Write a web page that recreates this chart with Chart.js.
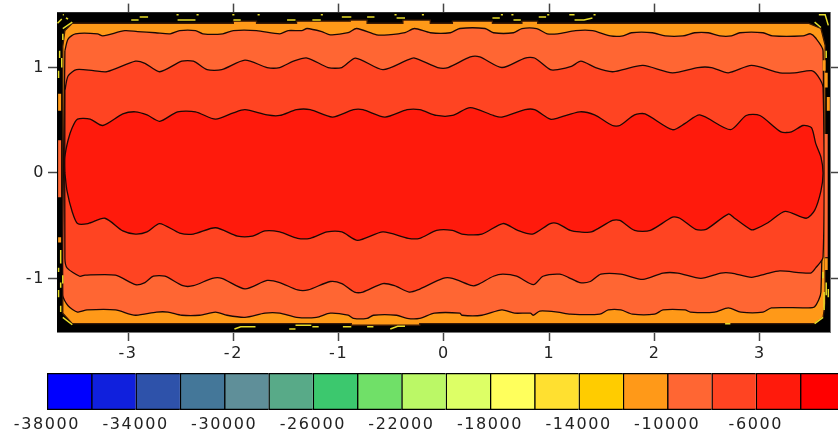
<!DOCTYPE html>
<html>
<head>
<meta charset="utf-8">
<title>Contour</title>
<script src="https://cdn.jsdelivr.net/npm/chart.js@4/dist/chart.umd.min.js"></script>
<style>
  body { margin: 0; background: #fff; }
  canvas { position: absolute; left: 0; filter: blur(0.35px); }
  #contour { top: 0; }
  #scaleBar { top: 360px; }
</style>
</head>
<body>
<canvas id="contour" width="838" height="360"></canvas>
<canvas id="scaleBar" width="838" height="72"></canvas>
<script>
const xRange = [-3.675, 3.666];
const yRange = [-1.509, 1.521];

// colour bar
const levels = [-38000, -36000, -34000, -32000, -30000, -28000, -26000, -24000, -22000, -20000, -18000, -16000, -14000, -12000, -10000, -8000, -6000, -4000, -2000];
const levelColors = ["#0000ff", "#1020dd", "#2e52aa", "#447799", "#5f8f99", "#58aa88", "#3cc86e", "#70e068", "#bbf866", "#ddff66", "#ffff5c", "#ffe030", "#ffcc00", "#ff9918", "#ff6633", "#ff4422", "#ff1a0c", "#ff0000"];
const barLabels = [-38000, -34000, -30000, -26000, -22000, -18000, -14000, -10000, -6000];
const barMax = -2290;

// contour at -10000 (edge of the orange band)
const c0TopX = [-3.62, -3.62, -3.60, -3.53, -2.00, -2.00, -1.78, -1.78, -1.40, -1.40, -0.89, -0.89, -0.73, -0.73, -0.39, -0.39, -0.13, -0.13, 0.08, 0.08, 0.46, 0.46, 0.74, 0.74, 0.89, 0.89, 3.46, 3.58, 3.62];
const c0TopY = [-1.20, 1.20, 1.35, 1.42, 1.42, 1.44, 1.44, 1.42, 1.42, 1.44, 1.44, 1.45, 1.45, 1.42, 1.42, 1.45, 1.45, 1.42, 1.42, 1.44, 1.44, 1.42, 1.42, 1.44, 1.44, 1.42, 1.42, 1.37, 1.21];
const c0BotX = [-3.62, -3.53, -0.88, -0.88, -0.23, -0.23, 3.52, 3.60, 3.62];
const c0BotY = [-1.33, -1.43, -1.43, -1.445, -1.445, -1.43, -1.43, -1.37, -1.24];

// contour at -8000
const c1TopX = [-3.60, -3.57, -3.50, -3.29, -3.24, -3.03, -2.91, -2.74, -2.60, -2.51, -2.36, -2.29, -2.10, -2.00, -1.78, -1.56, -1.48, -1.35, -1.30, -1.16, -1.08, -0.91, -0.83, -0.64, -0.53, -0.37, -0.28, -0.13, 0.06, 0.15, 0.39, 0.47, 0.66, 0.74, 0.88, 0.98, 1.08, 1.25, 1.41, 1.58, 1.70, 1.78, 1.98, 2.10, 2.27, 2.38, 2.51, 2.62, 2.73, 2.81, 3.03, 3.12, 3.41, 3.48, 3.53, 3.60];
const c1TopY = [1.16, 1.27, 1.32, 1.32, 1.30, 1.35, 1.34, 1.33, 1.32, 1.35, 1.35, 1.32, 1.32, 1.35, 1.35, 1.32, 1.35, 1.35, 1.37, 1.34, 1.31, 1.33, 1.37, 1.31, 1.31, 1.33, 1.37, 1.33, 1.33, 1.37, 1.37, 1.33, 1.33, 1.37, 1.37, 1.32, 1.32, 1.35, 1.35, 1.30, 1.30, 1.33, 1.33, 1.30, 1.30, 1.33, 1.33, 1.30, 1.30, 1.33, 1.33, 1.30, 1.30, 1.32, 1.28, 1.16];
const c1BotX = [-3.62, -3.57, -3.48, -3.39, -3.12, -2.93, -2.73, -2.62, -2.49, -2.32, -2.17, -2.06, -1.89, -1.70, -1.56, -1.40, -1.21, -1.08, -0.91, -0.86, -0.73, -0.67, -0.45, -0.35, -0.23, -0.09, 0.15, 0.17, 0.36, 0.55, 0.67, 0.82, 0.85, 0.91, 1.08, 1.20, 1.48, 1.56, 1.68, 1.79, 2.00, 2.08, 2.29, 2.34, 2.57, 2.70, 2.82, 3.03, 3.11, 3.43, 3.52, 3.58];
const c1BotY = [-1.16, -1.26, -1.32, -1.30, -1.30, -1.35, -1.32, -1.32, -1.35, -1.35, -1.32, -1.35, -1.37, -1.33, -1.33, -1.37, -1.37, -1.33, -1.35, -1.38, -1.38, -1.35, -1.35, -1.38, -1.38, -1.33, -1.33, -1.35, -1.35, -1.30, -1.33, -1.33, -1.35, -1.31, -1.32, -1.34, -1.34, -1.30, -1.30, -1.34, -1.34, -1.30, -1.30, -1.32, -1.32, -1.28, -1.32, -1.32, -1.28, -1.28, -1.27, -1.13];

// contour at -6000
const c2TopX = [-3.60, -3.57, -3.49, -3.33, -3.20, -2.93, -2.84, -2.70, -2.49, -2.38, -2.25, -2.11, -1.89, -1.68, -1.56, -1.43, -1.30, -1.10, -0.97, -0.84, -0.58, -0.35, -0.28, -0.06, 0.04, 0.25, 0.34, 0.55, 0.77, 0.86, 1.01, 1.08, 1.21, 1.30, 1.44, 1.60, 1.70, 1.89, 2.17, 2.41, 2.54, 2.70, 2.92, 3.19, 3.33, 3.49, 3.55, 3.60];
const c2TopY = [0.78, 0.92, 0.98, 0.97, 0.96, 1.06, 1.04, 0.96, 1.06, 1.06, 0.98, 0.98, 1.07, 1.00, 1.00, 1.06, 1.09, 1.00, 1.00, 1.09, 0.98, 1.07, 1.09, 1.00, 1.00, 1.10, 1.10, 1.00, 1.09, 1.09, 0.98, 0.98, 1.01, 1.06, 1.00, 0.96, 0.98, 1.02, 0.95, 1.00, 1.00, 0.95, 1.02, 0.95, 0.95, 0.97, 0.92, 0.81];
const c2BotX = [-3.60, -3.58, -3.46, -3.41, -3.12, -2.93, -2.84, -2.76, -2.65, -2.48, -2.38, -2.20, -2.11, -1.89, -1.68, -1.56, -1.39, -1.29, -1.08, -0.97, -0.85, -0.77, -0.58, -0.47, -0.33, -0.25, -0.01, 0.08, 0.27, 0.32, 0.47, 0.56, 0.69, 0.85, 0.94, 1.10, 1.18, 1.29, 1.39, 1.49, 1.68, 1.89, 2.08, 2.22, 2.44, 2.63, 2.73, 2.92, 3.05, 3.19, 3.48, 3.53, 3.60];
const c2BotY = [-0.81, -0.90, -0.98, -0.97, -0.97, -1.06, -1.04, -0.98, -0.98, -1.07, -1.07, -1.00, -1.00, -1.10, -1.02, -1.04, -1.11, -1.11, -1.03, -1.05, -1.13, -1.13, -1.05, -1.07, -1.13, -1.11, -1.00, -1.00, -1.07, -1.06, -0.98, -0.96, -0.98, -1.06, -0.98, -0.96, -0.99, -1.04, -1.03, -0.96, -0.96, -1.01, -0.95, -0.95, -1.00, -0.95, -0.95, -0.99, -0.96, -0.93, -0.95, -0.90, -0.80];

// contour at -4000 (centre region)
const c3TopX = [-3.60, -3.60, -3.57, -3.53, -3.48, -3.36, -3.24, -3.05, -2.93, -2.82, -2.70, -2.53, -2.36, -2.17, -2.00, -1.89, -1.68, -1.56, -1.40, -1.27, -1.06, -0.86, -0.77, -0.56, -0.35, -0.23, -0.07, 0.08, 0.25, 0.47, 0.55, 0.77, 0.86, 1.01, 1.08, 1.29, 1.43, 1.60, 1.67, 1.81, 1.91, 2.17, 2.29, 2.43, 2.72, 2.87, 3.00, 3.20, 3.30, 3.41, 3.49, 3.53, 3.58, 3.60];
const c3TopY = [0, 0.15, 0.31, 0.43, 0.51, 0.51, 0.45, 0.56, 0.58, 0.55, 0.49, 0.58, 0.58, 0.51, 0.57, 0.60, 0.55, 0.545, 0.60, 0.60, 0.53, 0.60, 0.60, 0.53, 0.60, 0.60, 0.545, 0.545, 0.62, 0.545, 0.53, 0.60, 0.60, 0.51, 0.52, 0.58, 0.55, 0.45, 0.45, 0.55, 0.56, 0.41, 0.47, 0.55, 0.41, 0.545, 0.545, 0.39, 0.39, 0.45, 0.43, 0.28, 0.15, 0];
const c3BotX = [-3.58, -3.53, -3.48, -3.38, -3.22, -3.05, -2.93, -2.82, -2.70, -2.51, -2.38, -2.17, -1.96, -1.82, -1.70, -1.56, -1.39, -1.27, -1.11, -0.97, -0.82, -0.58, -0.34, -0.23, -0.07, 0.08, 0.17, 0.36, 0.56, 0.70, 0.84, 1.01, 1.08, 1.20, 1.29, 1.40, 1.60, 1.67, 1.81, 1.96, 2.17, 2.24, 2.39, 2.49, 2.70, 2.76, 2.91, 2.95, 3.08, 3.24, 3.44, 3.52, 3.58];
const c3BotY = [-0.17, -0.37, -0.48, -0.48, -0.43, -0.55, -0.58, -0.56, -0.48, -0.57, -0.58, -0.52, -0.60, -0.60, -0.55, -0.56, -0.62, -0.62, -0.56, -0.56, -0.64, -0.56, -0.62, -0.62, -0.545, -0.545, -0.58, -0.58, -0.48, -0.545, -0.58, -0.48, -0.48, -0.545, -0.56, -0.56, -0.45, -0.45, -0.545, -0.545, -0.42, -0.43, -0.535, -0.535, -0.39, -0.43, -0.535, -0.535, -0.47, -0.365, -0.43, -0.355, -0.17];

// stray contour pieces in the black border, null breaks the line
const yellowX = [-2.97, -2.90, null, -2.89, -2.81, null, -2.53, -2.36, null, -2.00, -1.93, null, -1.49, -1.41, null, -1.25, -1.17, null, -0.97, -0.88, null, -0.73, -0.66, null, -0.45, -0.37, null, 0.46, 0.53, null, 0.66, 0.73, null, 0.90, 0.97, null, 1.19, 1.24, null, 1.24, 1.33, 1.41, null, 0.64, 0.66, null, -2.54, -2.52, null, -2.35, -2.33, null, -2.01, -1.99, null, -1.77, -1.75, null, -1.17, -1.15, null, -0.47, -0.45, null, -0.21, -0.19, null, 0.54, 0.56, null, 0.98, 1.00, null, 1.42, 1.44, null,
  -1.99, -1.93, -1.79, null, -1.47, -1.41, null, -1.41, -1.26, null, -1.25, -1.19, null, -0.96, -0.88, null, -0.73, -0.67, null, -0.51, -0.44, -0.37, null, 2.67, 2.72, null,
  -3.67, -3.63, null, -3.62, -3.61, null, -3.59, -3.57, null, -3.62, -3.53, null, -3.65, -3.65, null, -3.62, -3.62, null, -3.63, -3.63, null, -3.66, -3.66, null,
  3.56, 3.62, 3.65, null, 3.52, 3.58, null, 3.63, 3.63, null,
  -3.64, -3.64, null, -3.66, -3.66, null, -3.62, -3.62, null, -3.64, -3.64, null, -3.66, -3.66, null, -3.64, -3.64, null, -3.62, -3.53, null,
  3.52, 3.60, null, 3.60, 3.60, null, 3.63, 3.63, null, 3.65, 3.65, null, 3.61, 3.61];
const yellowY = [1.45, 1.45, null, 1.48, 1.48, null, 1.45, 1.45, null, 1.45, 1.45, null, 1.45, 1.45, null, 1.45, 1.45, null, 1.48, 1.48, null, 1.48, 1.48, null, 1.47, 1.47, null, 1.47, 1.47, null, 1.45, 1.45, null, 1.48, 1.48, null, 1.50, 1.50, null, 1.45, 1.45, 1.47, null, 1.50, 1.50, null, 1.50, 1.50, null, 1.50, 1.50, null, 1.50, 1.50, null, 1.50, 1.50, null, 1.50, 1.50, null, 1.50, 1.50, null, 1.50, 1.50, null, 1.50, 1.50, null, 1.50, 1.50, null, 1.50, 1.50, null,
  -1.48, -1.46, -1.46, null, -1.48, -1.48, null, -1.445, -1.445, null, -1.46, -1.46, null, -1.46, -1.46, null, -1.46, -1.46, null, -1.48, -1.455, -1.455, null, -1.43, -1.43, null,
  1.42, 1.46, null, 1.50, 1.50, null, 1.47, 1.46, null, 1.37, 1.43, null, 1.16, 1.09, null, 1.32, 1.26, null, 1.09, 1.00, null, 0.97, 0.90, null,
  1.50, 1.50, 1.40, null, 1.43, 1.38, null, 1.16, 1.09, null,
  -0.73, -0.86, null, -0.90, -0.94, null, -0.97, -1.05, null, -1.04, -1.09, null, -1.11, -1.18, null, -1.26, -1.32, null, -1.37, -1.44, null,
  -1.43, -1.37, null, -0.94, -1.00, null, -1.04, -1.16, null, -1.10, -1.18, null, -1.13, -1.30];
const orangeX = [-3.65, -3.65, null, -3.65, -3.65, null, 3.63, 3.63, null, 3.65, 3.65, null, 3.61, 3.61, null, 3.63, 3.63];
const orangeY = [0.75, 0.59, null, -0.61, -0.66, null, 0.95, 0.81, null, 0.72, 0.59, null, 1.07, 0.97, null, -0.81, -0.92];
const redX = [-3.65, -3.65, null, 3.63, 3.63];
const redY = [0.31, -0.23, null, 0.37, -0.80];

function zipPoints(xs, ys) {
    return xs.map((x, i) => ({ x: x, y: ys[i] }));
}

// top edge left to right, then bottom edge back, closed
function ring(topX, topY, botX, botY) {
    const pts = zipPoints(topX, topY).concat(zipPoints(botX, botY).reverse());
    pts.push(pts[0]);
    return pts;
}

function region(points, color, lineColor, bend) {
    return { data: points, showLine: true, fill: "shape", backgroundColor: color, borderColor: lineColor, borderWidth: 1.3, pointRadius: 0, tension: bend };
}

function stroke(points, color, width) {
    return { data: points, showLine: true, fill: false, borderColor: color, borderWidth: width, pointRadius: 0, tension: 0, spanGaps: false };
}

const fontSpec = { family: "'DejaVu Sans'", size: 16 };
const wideText = {
    id: "wideText",
    beforeDraw(chart) { chart.ctx.letterSpacing = "1.6px"; }
};

// first dataset is painted last, so the centre goes first
const layers = [
    stroke(zipPoints(yellowX, yellowY), "#e6dc28", 1.5),
    stroke(zipPoints(orangeX, orangeY), "#ff9918", 3),
    stroke(zipPoints(redX, redY), "#ff6633", 3),
    region(ring(c3TopX, c3TopY, c3BotX, c3BotY), "#ff1a0c", "#1a0805", 0.25),
    region(ring(c2TopX, c2TopY, c2BotX, c2BotY), "#ff4422", "#1a0805", 0.25),
    region(ring(c1TopX, c1TopY, c1BotX, c1BotY), "#ff6633", "#1a0805", 0.25),
    region(ring(c0TopX, c0TopY, c0BotX, c0BotY), "#ff9918", "#3a1a05", 0),
    region(ring([xRange[0], xRange[1]], [yRange[1], yRange[1]], [xRange[0], xRange[1]], [yRange[0], yRange[0]]), "#000000", "#000000", 0)
];

function frameAxis(position, min, max, size, showLabels) {
    const horizontal = position === "top" || position === "bottom";
    return {
        type: "linear",
        position: position,
        min: min,
        max: max,
        afterFit(scale) {
            if (horizontal) scale.height = size; else scale.width = size;
        },
        border: { display: true, color: "#777777", width: 1 },
        grid: { drawOnChartArea: false, tickLength: 9, tickColor: "#444444", tickWidth: 1.5 },
        ticks: {
            display: showLabels, stepSize: 1, includeBounds: false, color: "#222222", font: fontSpec, padding: 3,
            maxRotation: 0, autoSkip: false, callback: (v) => String(v)
        }
    };
}

new Chart(document.getElementById("contour"), {
    type: "scatter",
    data: { datasets: layers },
    options: {
        responsive: false,
        animation: false,
        layout: { padding: 0 },
        plugins: { legend: { display: false }, tooltip: { enabled: false } },
        scales: {
            x: frameAxis("bottom", xRange[0], xRange[1], 28, true),
            y: frameAxis("left", yRange[0], yRange[1], 57, true),
            xTop: frameAxis("top", xRange[0], xRange[1], 12, false),
            yRight: frameAxis("right", yRange[0], yRange[1], 8, false)
        }
    },
    plugins: [wideText]
});

new Chart(document.getElementById("scaleBar"), {
    type: "bar",
    data: {
        labels: [""],
        datasets: levelColors.map((color, i) => ({
            data: [[levels[i], levels[i + 1]]],
            backgroundColor: color,
            borderColor: "#000000",
            borderWidth: 1.6,
            grouped: false,
            barPercentage: 1,
            categoryPercentage: 1
        }))
    },
    options: {
        indexAxis: "y",
        responsive: false,
        animation: false,
        layout: { padding: { left: 47, top: 13 } },
        plugins: { legend: { display: false }, tooltip: { enabled: false } },
        scales: {
            y: { display: false },
            x: {
                type: "linear",
                min: levels[0],
                max: barMax,
                afterBuildTicks(scale) { scale.ticks = barLabels.map((v) => ({ value: v })); },
                afterFit(scale) { scale.height = 22; },
                border: { display: false },
                grid: { display: false, drawTicks: false },
                ticks: {
                    color: "#222222", font: fontSpec, padding: 5,
                    maxRotation: 0, autoSkip: false, callback: (v) => String(v)
                }
            }
        }
    },
    plugins: [wideText]
});
</script>
</body>
</html>
